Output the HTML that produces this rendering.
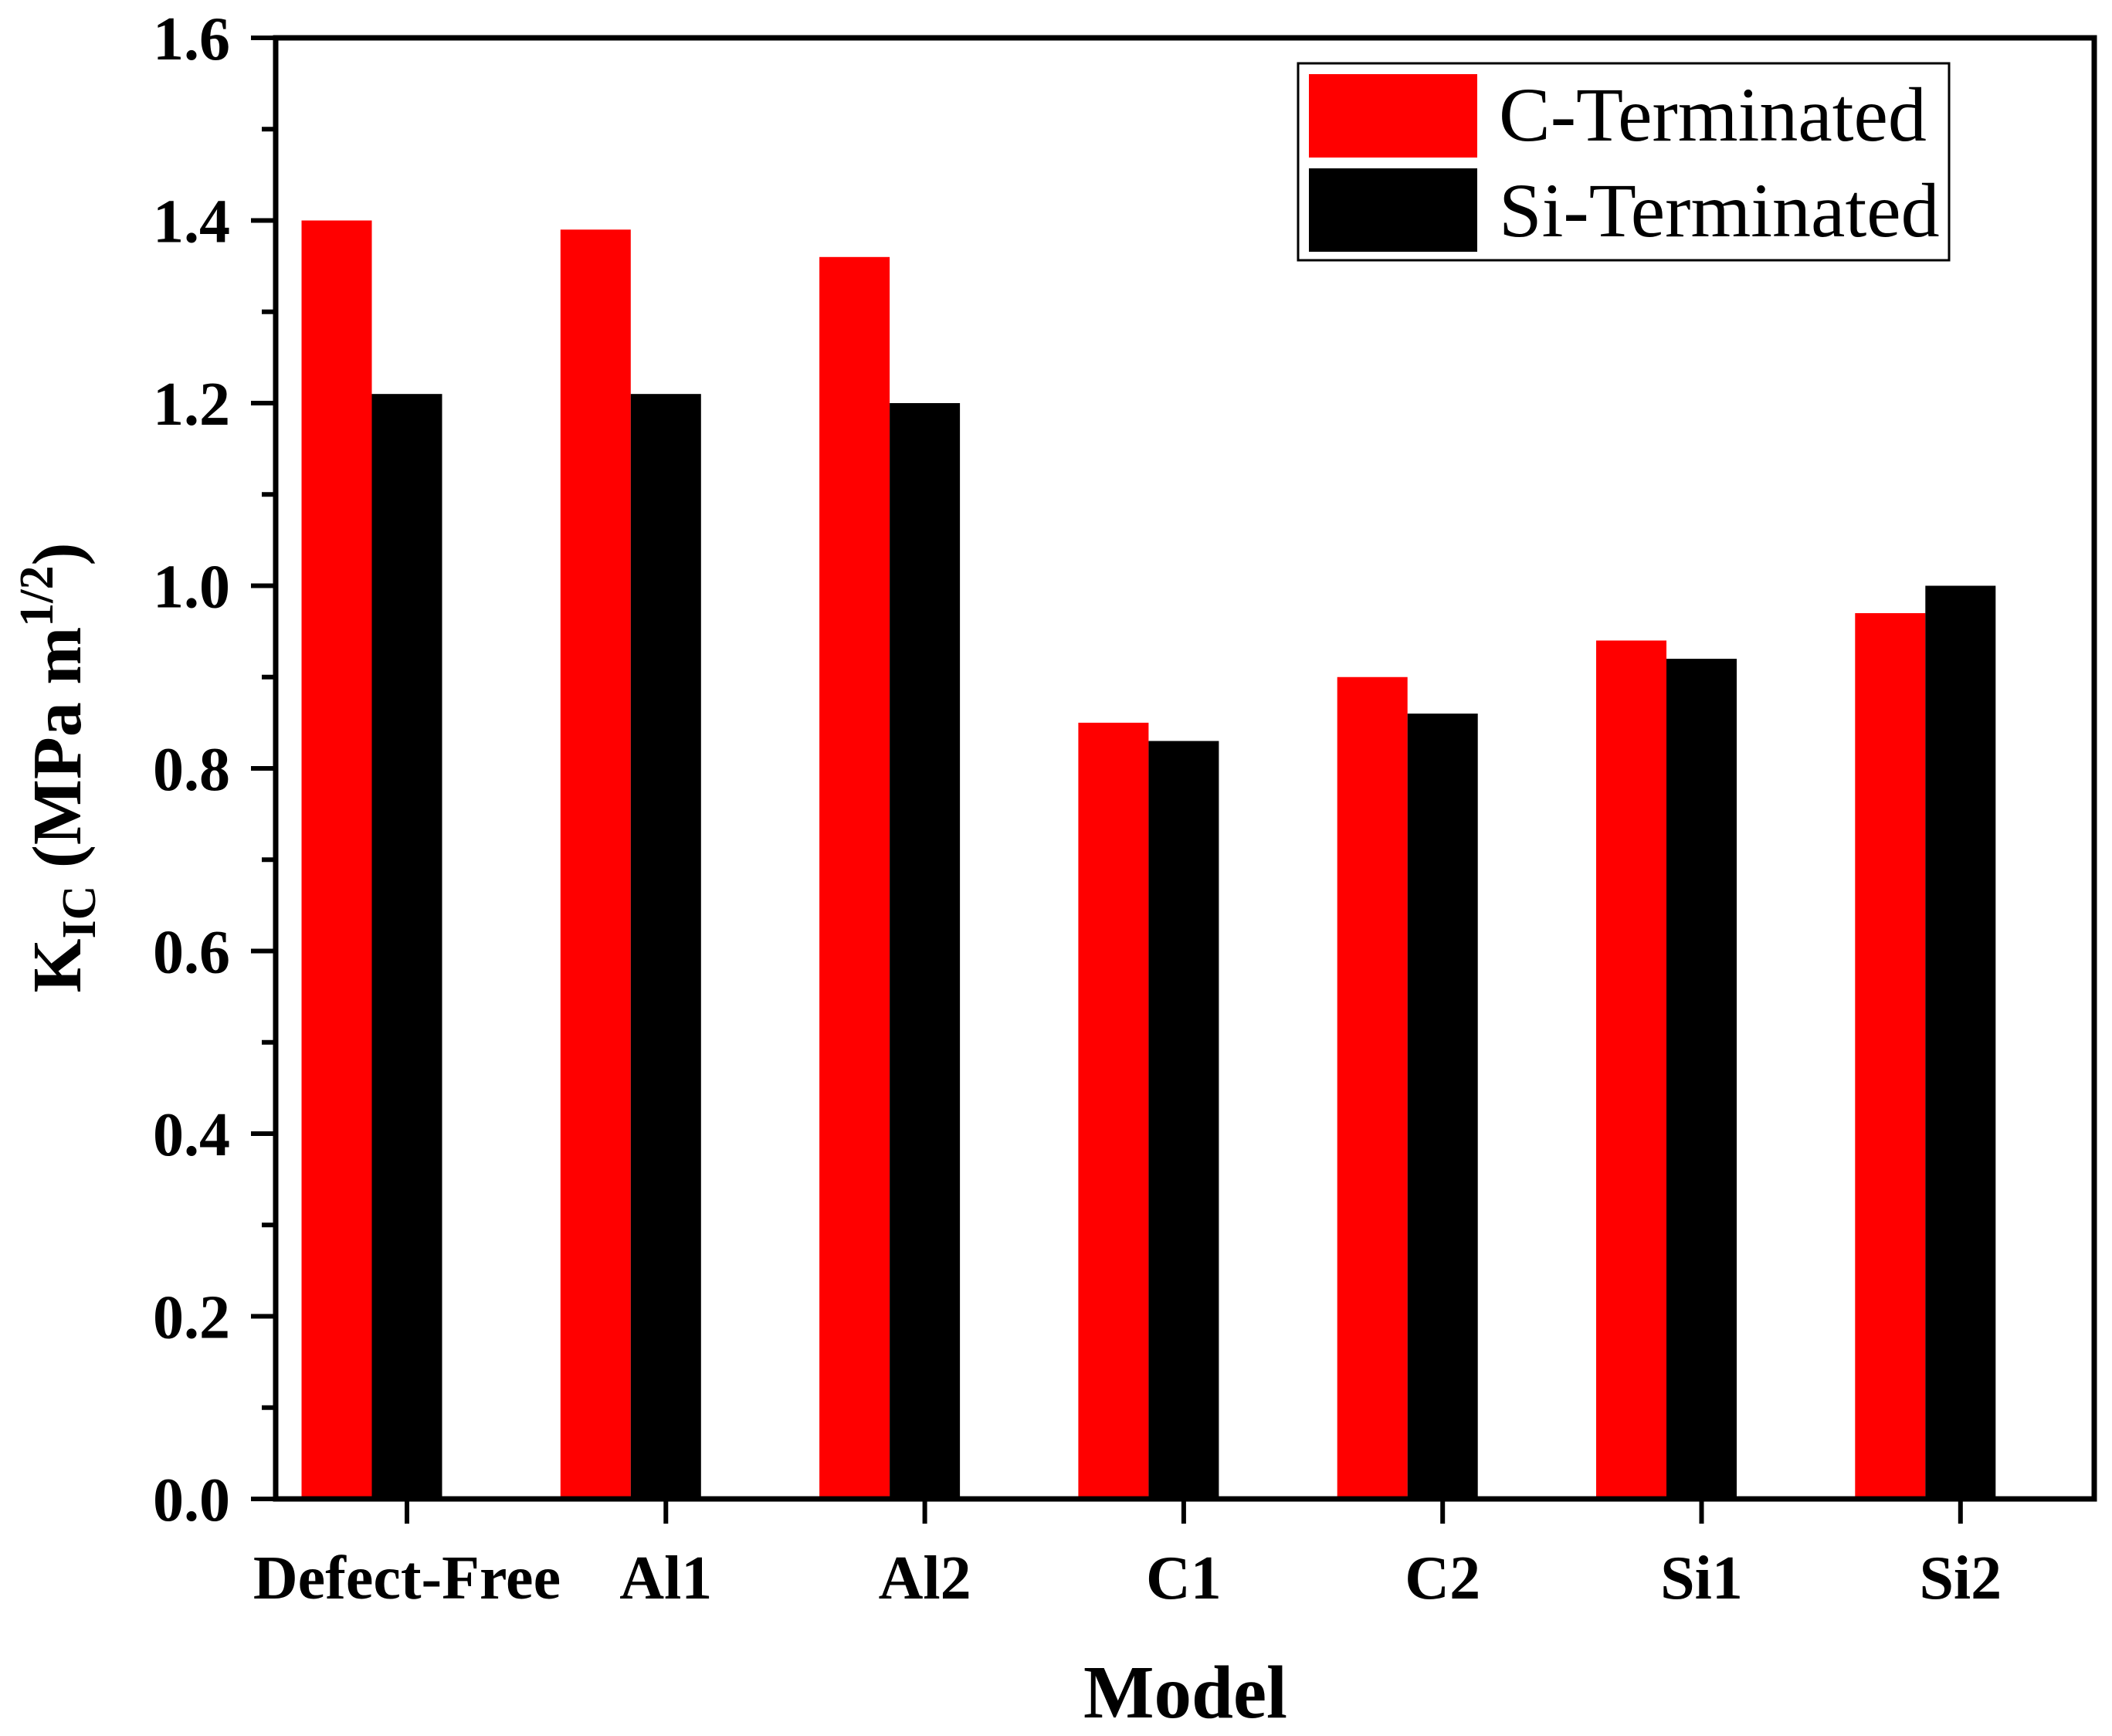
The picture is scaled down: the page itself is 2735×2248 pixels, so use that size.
<!DOCTYPE html>
<html><head><meta charset="utf-8"><style>
html,body{margin:0;padding:0;background:#fff;}
svg{display:block;font-family:"Liberation Serif",serif;}
</style></head><body>
<svg id="chart" width="2735" height="2248" viewBox="0 0 2735 2248" xmlns="http://www.w3.org/2000/svg">
<g id="bars"></g>
<g id="axes"></g>
<g>
  <rect x="1681" y="82" width="843" height="255" fill="#fff" stroke="#000" stroke-width="3"/>
  <rect x="1695" y="96" width="218" height="108" fill="#ff0000"/>
  <rect x="1695" y="218" width="218" height="108" fill="#000"/>
  <text x="1941" y="182" font-size="100">C-Terminated</text>
  <text x="1941" y="306" font-size="100">Si-Terminated</text>
</g>
<text x="1535" y="2224" font-size="97" font-weight="bold" text-anchor="middle">Model</text>
<text transform="translate(104,994) rotate(-90)" font-size="90" font-weight="bold" text-anchor="middle">K<tspan font-size="62" dy="19">IC</tspan><tspan dy="-19"> (MPa m</tspan><tspan font-size="62" dy="-36">1/2</tspan><tspan dy="36">)</tspan></text>
</svg>
<script>
const categories=["Defect-Free","Al1","Al2","C1","C2","Si1","Si2"];
const cTerm=[1.40,1.39,1.36,0.85,0.90,0.94,0.97];
const siTerm=[1.21,1.21,1.20,0.83,0.86,0.92,1.00];
const yTicks=["0.0","0.2","0.4","0.6","0.8","1.0","1.2","1.4","1.6"];
const NS="http://www.w3.org/2000/svg";
const L=357,R=2712,T=49,B=1941,yMax=1.6;
const y=v=>B-(v/yMax)*(B-T);
const x=i=>527+i*335.3;
const bw=91;
function mk(tag,attrs,parent){const e=document.createElementNS(NS,tag);for(const k in attrs)e.setAttribute(k,attrs[k]);parent.appendChild(e);return e;}
const bars=document.getElementById('bars'),axes=document.getElementById('axes');
categories.forEach((c,i)=>{
  const r=mk('rect',{x:x(i)-1.5*bw,y:y(cTerm[i]),width:bw,height:B-y(cTerm[i]),fill:'#ff0000'},bars);
  
  
  const b=mk('rect',{x:x(i)-0.5*bw,y:y(siTerm[i]),width:bw,height:B-y(siTerm[i]),fill:'#000'},bars);
  
  
  const t=mk('line',{x1:x(i),x2:x(i),y1:B,y2:B+32,stroke:'#000','stroke-width':6},axes);
  
  
  const lb=mk('text',{x:x(i),y:2070,'font-size':80,'font-weight':'bold','text-anchor':'middle'},axes);
  lb.textContent=c;
  
  
});
const frame=mk('rect',{x:L,y:T,width:R-L,height:B-T,fill:'none',stroke:'#000','stroke-width':7},axes);


yTicks.forEach((s,i)=>{
  const v=parseFloat(s);
  const t=mk('line',{x1:L-32,x2:L,y1:y(v),y2:y(v),stroke:'#000','stroke-width':6},axes);
  
  
  const lb=mk('text',{x:298,y:y(v)+28,'font-size':80,'font-weight':'bold','text-anchor':'end'},axes);
  lb.textContent=s;
  
  
  if(i<yTicks.length-1){
    const m=mk('line',{x1:L-18,x2:L,y1:y(v+0.1),y2:y(v+0.1),stroke:'#000','stroke-width':6},axes);
    
    
  }
});
</script>
</body></html>
